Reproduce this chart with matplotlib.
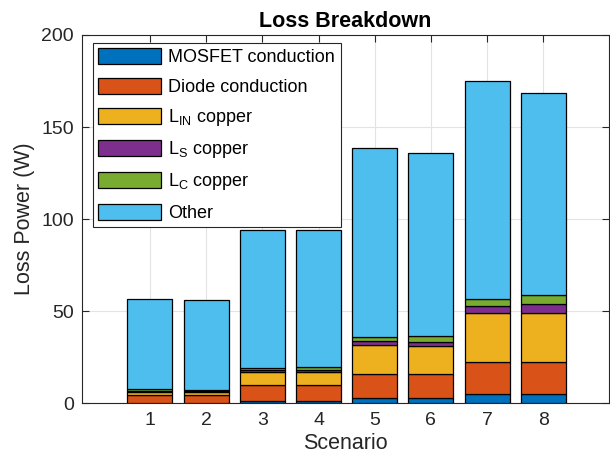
import matplotlib
matplotlib.use('Agg')
import matplotlib.pyplot as plt
import numpy as np

matplotlib.rc('font', family='Liberation Sans', size=14)
matplotlib.rc('mathtext', fontset='custom', rm='Liberation Sans',
              it='Liberation Sans:italic', bf='Liberation Sans:bold')

scenarios = [1, 2, 3, 4, 5, 6, 7, 8]
mosfet = [0.2, 0.2, 1.2, 1.2, 2.9, 2.9, 5.0, 4.9]
diode = [4.3, 4.3, 8.7, 8.7, 13.0, 12.8, 17.4, 17.5]
l_in = [1.8, 1.4, 6.9, 6.9, 15.6, 15.4, 26.8, 26.8]
l_s = [0.6, 0.6, 1.2, 1.4, 2.1, 2.3, 3.6, 4.5]
l_c = [0.7, 0.7, 1.0, 1.3, 2.4, 3.2, 3.7, 5.1]
other = [49.2, 48.9, 75.0, 74.5, 102.6, 99.4, 118.4, 109.9]

names = ['MOSFET conduction', 'Diode conduction', r'L$_{\mathrm{IN}}$ copper',
         r'L$_{\mathrm{S}}$ copper', r'L$_{\mathrm{C}}$ copper', 'Other']
colors = ['#0072BD', '#D95319', '#EDB120', '#7E2F8E', '#77AC30', '#4DBEEE']

fig = plt.figure(figsize=(6.1, 4.66), dpi=100)
ax = fig.add_axes([0.1344, 0.1345, 0.864, 0.7904])

bottom = np.zeros(len(scenarios))
for vals, name, col in zip([mosfet, diode, l_in, l_s, l_c, other], names, colors):
    ax.bar(scenarios, vals, 0.8, bottom=bottom, color=col, edgecolor='black',
           linewidth=0.9, label=name, zorder=3)
    bottom += np.array(vals)

ax.set_xlim(-0.21, 9.17)
ax.set_ylim(0, 200)
ax.set_xticks(scenarios)
ax.set_yticks([0, 50, 100, 150, 200])
ax.grid(True, color='#e3e3e3', linewidth=0.8, zorder=0)
ax.tick_params(direction='in', top=True, right=True, length=5, width=0.8,
               colors='#262626', labelsize=14, pad=6)
for s in ax.spines.values():
    s.set_color('#262626')
    s.set_linewidth(0.8)

ax.set_xlabel('Scenario', fontsize=15.5, color='#262626', labelpad=3)
ax.set_ylabel('Loss Power (W)', fontsize=15.5, color='#262626')
ax.set_title('Loss Breakdown', fontsize=15.5, fontweight='bold', pad=6)

leg = ax.legend(loc='upper left', bbox_to_anchor=(0.02, 0.979), fontsize=13,
                fancybox=False, framealpha=1, edgecolor='#262626',
                handlelength=3.5, handleheight=1.0, labelspacing=0.62,
                borderpad=0.3, handletextpad=0.4, borderaxespad=0)
leg.get_frame().set_linewidth(0.8)

plt.savefig('out.png', dpi=100)
